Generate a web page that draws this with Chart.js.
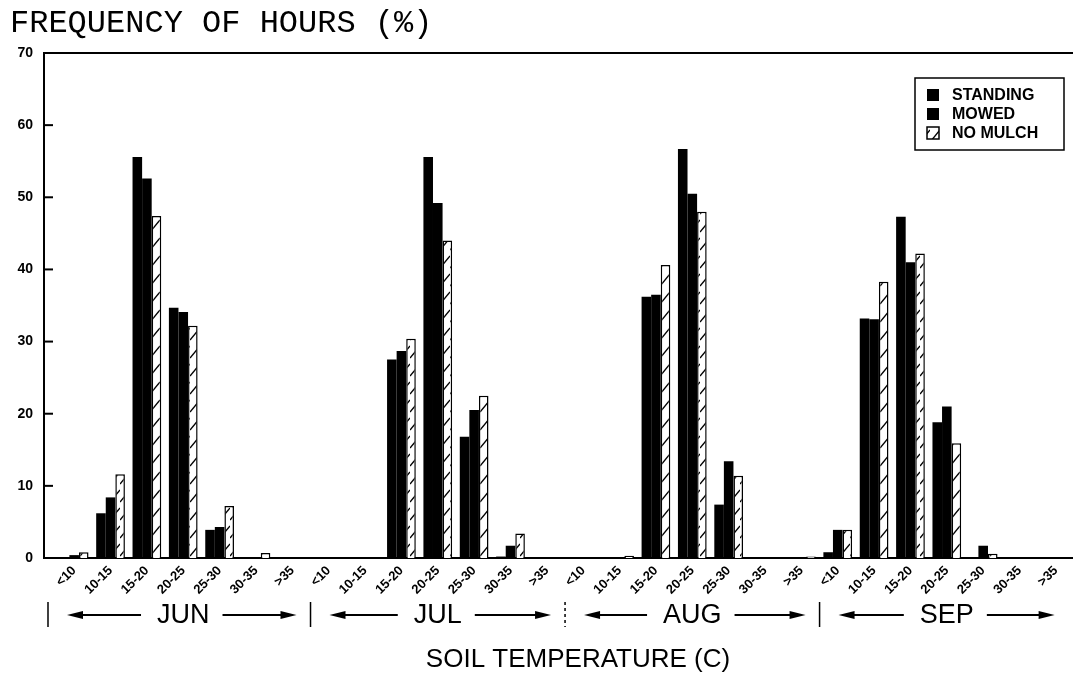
<!DOCTYPE html>
<html>
<head>
<meta charset="utf-8">
<script src="https://cdn.jsdelivr.net/npm/chart.js@4/dist/chart.umd.min.js"></script>
<style>
  html, body { margin: 0; padding: 0; background: #fff; }
</style>
</head>
<body>
<canvas id="chart" width="1073" height="675"></canvas>
<script>
const months = ['JUN', 'JUL', 'AUG', 'SEP'];
const tempClasses = ['<10', '10-15', '15-20', '20-25', '25-30', '30-35', '>35'];
const yTicks = [0, 10, 20, 30, 40, 50, 60, 70];

// frequency of hours (%), 7 soil temperature classes for each month JUN..SEP
const standing = [
  0.1, 6.2, 55.6, 34.7, 3.9, 0, 0,
  0, 0, 27.5, 55.6, 16.8, 0.2, 0,
  0, 0, 36.2, 56.7, 7.4, 0, 0,
  0.8, 33.2, 47.3, 18.8, 0, 0, 0
];
const mowed = [
  0.4, 8.4, 52.6, 34.1, 4.3, 0, 0,
  0, 0, 28.7, 49.2, 20.5, 1.7, 0,
  0, 0, 36.5, 50.5, 13.4, 0, 0,
  3.9, 33.1, 41.0, 21.0, 1.7, 0, 0
];
const noMulch = [
  0.8, 11.6, 47.4, 32.2, 7.2, 0.7, 0,
  0, 0, 30.4, 44.0, 22.5, 3.4, 0,
  0, 0.3, 40.6, 48.0, 11.4, 0, 0.2,
  3.9, 38.3, 42.2, 15.9, 0.6, 0, 0
];

const canvas = document.getElementById('chart');
const ctx = canvas.getContext('2d');

// white with "/" hatch lines
function makeHatch() {
  const c = document.createElement('canvas');
  c.width = 10; c.height = 18;
  const g = c.getContext('2d');
  g.fillStyle = '#fff';
  g.fillRect(0, 0, 10, 18);
  g.strokeStyle = '#000';
  g.lineWidth = 1.4;
  g.beginPath();
  g.moveTo(0, 16);
  g.lineTo(10, 4);
  g.stroke();
  return ctx.createPattern(c, 'repeat');
}
const hatch = makeHatch();

const toPoints = (arr) => arr.map((v, i) => ({ x: i, y: v }));

function arrow(c, x0, x1, y) {
  const dir = Math.sign(x1 - x0);
  c.lineWidth = 2;
  c.beginPath();
  c.moveTo(x0, y);
  c.lineTo(x1 - dir * 10, y);
  c.stroke();
  c.beginPath();
  c.moveTo(x1, y);
  c.lineTo(x1 - dir * 16, y - 4);
  c.lineTo(x1 - dir * 16, y + 4);
  c.closePath();
  c.fill();
}

const decorations = {
  id: 'decorations',
  afterDraw(chart) {
    const { ctx: c, chartArea: a, scales: { x, x2, y } } = chart;
    c.save();
    c.strokeStyle = '#000';
    c.fillStyle = '#000';

    // top frame line
    c.lineWidth = 2;
    c.beginPath();
    c.moveTo(a.left, a.top);
    c.lineTo(a.right, a.top);
    c.stroke();

    // inward y tick marks
    yTicks.forEach((v) => {
      const py = y.getPixelForValue(v);
      c.beginPath();
      c.moveTo(a.left, py);
      c.lineTo(a.left + 9, py);
      c.stroke();
    });

    // month separators + arrows
    const rowY = 615;
    const bounds = [-0.72, 6.5, 13.5, 20.5, 27.35];
    c.font = '27px "Liberation Sans"';
    months.forEach((m, k) => {
      const left = x.getPixelForValue(bounds[k]);
      const right = x.getPixelForValue(bounds[k + 1]);
      const cx = x2.getPixelForValue(7 * k + 3);
      const w = c.measureText(m).width;
      c.lineWidth = 1.5;
      c.setLineDash(k === 2 ? [3, 3] : []);
      c.beginPath();
      c.moveTo(left, rowY - 13);
      c.lineTo(left, rowY + 12);
      c.stroke();
      c.setLineDash([]);
      arrow(c, cx - w / 2 - 16, left + 19, rowY);
      arrow(c, cx + w / 2 + 13, right - 14, rowY);
    });

    // x axis title
    c.font = '26px "Liberation Sans"';
    c.textAlign = 'center';
    c.textBaseline = 'middle';
    c.fillText('SOIL TEMPERATURE (C)', 578, 660);

    // legend box
    const lx = a.right - 158, ly = a.top + 25;
    c.lineWidth = 1.5;
    c.strokeRect(lx, ly, 149, 72);
    c.font = 'bold 16px "Liberation Sans"';
    c.textAlign = 'left';
    chart.data.datasets.forEach((ds, i) => {
      const cy = ly + 17 + i * 19;
      c.fillStyle = ds.backgroundColor;
      c.fillRect(lx + 12, cy - 6, 12, 12);
      if (ds.borderWidth) {
        c.lineWidth = 1.5;
        c.strokeRect(lx + 12, cy - 6, 12, 12);
      }
      c.fillStyle = '#000';
      c.fillText(ds.label, lx + 37, cy + 1);
    });
    c.restore();
  }
};

new Chart(ctx, {
  type: 'bar',
  data: {
    datasets: [
      { label: 'STANDING', data: toPoints(standing), backgroundColor: '#000', borderWidth: 0 },
      { label: 'MOWED', data: toPoints(mowed), backgroundColor: '#000', borderWidth: 0 },
      { label: 'NO MULCH', data: toPoints(noMulch), backgroundColor: hatch, borderColor: '#000', borderWidth: 1.5 }
    ]
  },
  options: {
    responsive: false,
    animation: false,
    devicePixelRatio: 1,
    events: [],
    categoryPercentage: 0.79,
    barPercentage: 1.0,
    layout: { padding: { left: 10, right: 0, top: 0, bottom: 35 } },
    scales: {
      x: {
        type: 'linear', min: -0.83, max: 27.47, offset: false, weight: 0,
        afterBuildTicks: (s) => { s.ticks = tempClasses.concat(tempClasses, tempClasses, tempClasses).map((_, i) => ({ value: i })); },
        afterFit: (s) => { s.height = 40; },
        grid: { display: false, drawTicks: false },
        border: { display: true, color: '#000', width: 2 },
        ticks: {
          autoSkip: false, minRotation: 45, maxRotation: 45, padding: 5, color: '#000',
          font: { family: '"Liberation Sans"', size: 13, weight: 'bold' },
          callback: (v) => tempClasses[Math.round(v) % 7]
        }
      },
      x2: {
        type: 'linear', position: 'bottom', min: -0.83, max: 27.47, offset: false, weight: 1,
        afterBuildTicks: (s) => { s.ticks = months.map((_, k) => ({ value: 7 * k + 3 })); },
        afterFit: (s) => { s.height = 42; },
        grid: { display: false, drawTicks: false },
        border: { display: false },
        ticks: {
          autoSkip: false, maxRotation: 0, padding: 1, color: '#000',
          font: { family: '"Liberation Sans"', size: 27 },
          callback: (v) => months[Math.round((v - 3) / 7)]
        }
      },
      y: {
        min: 0, max: 70,
        afterBuildTicks: (s) => { s.ticks = yTicks.map((v) => ({ value: v })); },
        afterFit: (s) => { s.width = 34; },
        grid: { display: false, drawTicks: false },
        border: { display: true, color: '#000', width: 2 },
        ticks: {
          padding: 11, color: '#000',
          font: { family: '"Liberation Sans"', size: 14, weight: 'bold' }
        }
      }
    },
    plugins: {
      legend: { display: false },
      tooltip: { enabled: false },
      title: {
        display: true, text: 'FREQUENCY OF HOURS (%)', align: 'start', color: '#000',
        font: { family: '"Liberation Mono", monospace', size: 32, weight: 'normal', lineHeight: 1 },
        padding: { top: 8, bottom: 13 }
      }
    }
  },
  plugins: [decorations]
});
</script>
</body>
</html>
